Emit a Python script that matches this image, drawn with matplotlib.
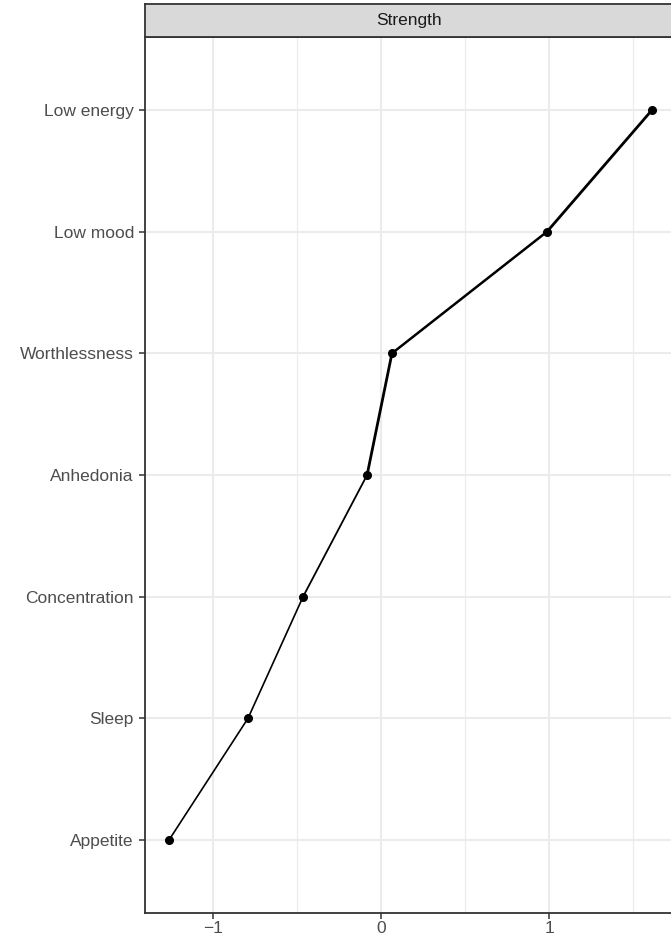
import numpy as np
import matplotlib
matplotlib.use('Agg')
import matplotlib.pyplot as plt
from matplotlib.ticker import MultipleLocator

plt.rcParams['font.family'] = ['Liberation Sans', 'DejaVu Sans']

# symptoms, bottom to top
symptoms = ['Appetite', 'Sleep', 'Concentration', 'Anhedonia',
            'Worthlessness', 'Low mood', 'Low energy']
strength = [-1.262, -0.792, -0.464, -0.083, 0.065, 0.988, 1.613]
# line width of each segment between neighbouring symptoms
seg_width = [1.2, 1.2, 1.3, 2.0, 1.8, 2.0]

W, H = 671, 943
fig = plt.figure(figsize=(W / 100, H / 100), dpi=100)

left, right = 145, 700
top, bottom = 37, 913
ax = fig.add_axes([left / W, (H - bottom) / H, (right - left) / W, (bottom - top) / H])

ypos = np.arange(len(symptoms))
x0 = -1.405
ax.set_xlim(x0, x0 + (right - left) / 168.0)
ax.set_ylim(-0.6, len(symptoms) - 0.4)

ax.xaxis.set_major_locator(MultipleLocator(1))
ax.xaxis.set_minor_locator(MultipleLocator(0.5))
ax.set_yticks(ypos)
ax.set_yticklabels(symptoms)
ax.set_xticks([-1, 0, 1])
ax.set_xticklabels(['\u22121', '0', '1'])

ax.grid(True, which='major', color='#EBEBEB', lw=1.5, zorder=0)
ax.grid(True, which='minor', axis='x', color='#EBEBEB', lw=0.8, zorder=0)
ax.set_axisbelow(True)

for i in range(len(symptoms) - 1):
    ax.plot(strength[i:i + 2], ypos[i:i + 2], color='black', lw=seg_width[i],
            solid_capstyle='round', zorder=3)
ax.plot(strength, ypos, 'o', color='black', ms=5.5, zorder=4)

for s in ax.spines.values():
    s.set_color('#333333')
    s.set_linewidth(1.3)
ax.tick_params(axis='both', which='major', length=4, width=1.1, color='#333333',
               labelcolor='#4D4D4D', labelsize=12.5, pad=4)
ax.tick_params(axis='x', which='major', pad=2)
ax.tick_params(axis='x', which='minor', length=0)

# facet strip
strip_top = 4
sax = fig.add_axes([left / W, (H - top) / H, (right - left) / W, (top - strip_top) / H])
sax.set_facecolor('#D9D9D9')
sax.set_xticks([])
sax.set_yticks([])
for s in sax.spines.values():
    s.set_color('#333333')
    s.set_linewidth(1.3)
sax.text((409 - left) / (right - left), 0.5, 'Strength',
         transform=sax.transAxes, ha='center', va='center', fontsize=12.5, color='#1A1A1A')

fig.savefig('out.png', dpi=100)
